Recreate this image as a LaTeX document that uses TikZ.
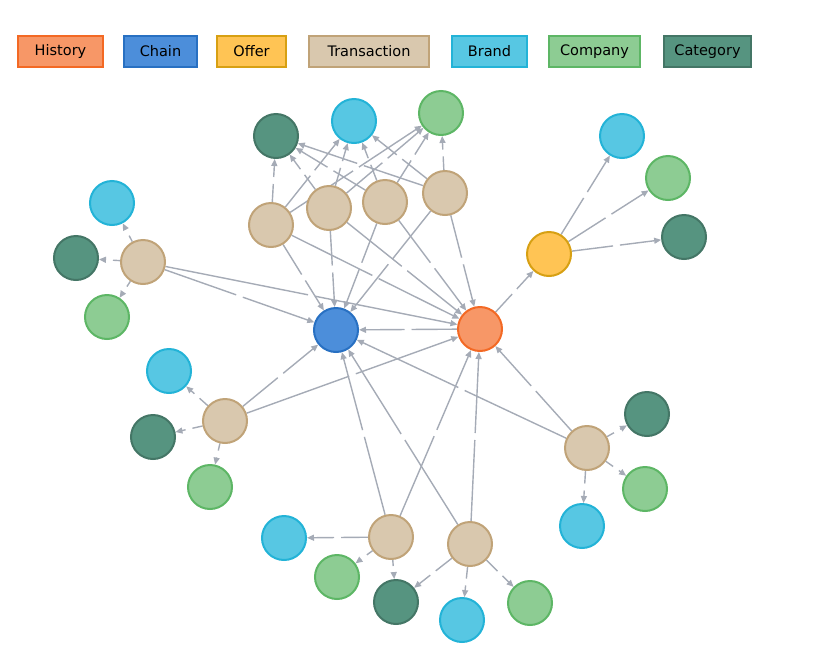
\documentclass[tikz,border=0pt]{standalone}
\usepackage{fontspec}
\setmainfont{DejaVu Sans}
\usetikzlibrary{arrows.meta,positioning,calc,backgrounds}
\definecolor{histfill}{HTML}{F79767}
\definecolor{histline}{HTML}{F36924}
\definecolor{chainfill}{HTML}{4C8EDA}
\definecolor{chainline}{HTML}{2870C2}
\definecolor{offerfill}{HTML}{FFC454}
\definecolor{offerline}{HTML}{D7A013}
\definecolor{txfill}{HTML}{D9C8AE}
\definecolor{txline}{HTML}{C0A378}
\definecolor{brandfill}{HTML}{57C7E3}
\definecolor{brandline}{HTML}{23B3D7}
\definecolor{compfill}{HTML}{8DCC93}
\definecolor{compline}{HTML}{5DB665}
\definecolor{catfill}{HTML}{569480}
\definecolor{catline}{HTML}{447666}
\definecolor{relgray}{HTML}{A5ABB6}

\begin{document}
\begin{tikzpicture}[x=1pt,y=-1pt,
 ent/.style={circle,minimum size=44pt,inner sep=0pt,line width=2pt,draw=#1line,fill=#1fill},
 legendbox/.style={draw=#1line,fill=#1fill,line width=2pt,minimum height=31pt,inner sep=0pt,font=\fontsize{14.5}{17}\selectfont},
 rel/.style={relgray,line width=1.4pt},
 relhead/.style={rel,-{Triangle[length=7pt,width=6pt]}}]
\useasboundingbox (0,0) rectangle (831,654);
\foreach \kind/\txt/\cx/\w in {hist/History/60.5/85,chain/Chain/160.5/73,offer/Offer/251.5/69,
 tx/Transaction/369/120,brand/Brand/489.5/75,comp/Company/594.5/91,cat/Category/707.5/87}
 \node[legendbox=\kind,minimum width=\w pt] (key-\kind) at (\cx,51.5) {\txt};

\node[ent=chain] (chain) at (336,330) {};
\node[ent=hist] (hist) at (480,329) {};
\node[ent=offer] (offer) at (549,254) {};
\node[ent=brand] (brand7) at (622,136) {};
\node[ent=comp] (comp7) at (668,178) {};
\node[ent=cat] (cat6) at (684,237) {};
% top cluster
\node[ent=tx] (tx1) at (271,225) {};
\node[ent=tx] (tx2) at (329,208) {};
\node[ent=tx] (tx3) at (385,202) {};
\node[ent=tx] (tx4) at (445,193) {};
\node[ent=cat] (cat1) at (276,136) {};
\node[ent=brand] (brand1) at (354,121) {};
\node[ent=comp] (comp1) at (441,113) {};
% left
\node[ent=tx] (tx5) at (143,262) {};
\node[ent=brand] (brand2) at (112,203) {};
\node[ent=cat] (cat2) at (76,258) {};
\node[ent=comp] (comp2) at (107,317) {};
\node[ent=tx] (tx6) at (225,421) {};
\node[ent=brand] (brand3) at (169,371) {};
\node[ent=cat] (cat3) at (153,437) {};
\node[ent=comp] (comp3) at (210,487) {};
% right
\node[ent=tx] (tx7) at (587,448) {};
\node[ent=cat] (cat4) at (647,414) {};
\node[ent=comp] (comp4) at (645,489) {};
\node[ent=brand] (brand4) at (582,526) {};
% bottom
\node[ent=tx] (tx8) at (391,537) {};
\node[ent=brand] (brand5) at (284,538) {};
\node[ent=comp] (comp5) at (337,577) {};
\node[ent=cat] (cat5) at (396,602) {};
\node[ent=tx] (tx9) at (470,544) {};
\node[ent=brand] (brand6) at (462,620) {};
\node[ent=comp] (comp6) at (530,603) {};

\begin{scope}[on background layer]
\foreach \a/\b in {tx1/cat1,tx1/brand1,tx1/comp1,tx1/chain,tx1/hist,
 tx2/cat1,tx2/brand1,tx2/comp1,tx2/chain,tx2/hist,
 tx3/cat1,tx3/brand1,tx3/comp1,tx3/chain,tx3/hist,
 tx4/cat1,tx4/brand1,tx4/comp1,tx4/chain,tx4/hist,
 tx5/brand2,tx5/cat2,tx5/comp2,tx5/chain,tx5/hist,
 tx6/brand3,tx6/cat3,tx6/comp3,tx6/chain,tx6/hist,
 tx7/cat4,tx7/comp4,tx7/brand4,tx7/chain,tx7/hist,
 tx8/brand5,tx8/comp5,tx8/cat5,tx8/chain,tx8/hist,
 tx9/cat5,tx9/brand6,tx9/comp6,tx9/chain,tx9/hist,
 hist/chain,hist/offer,offer/brand7,offer/comp7,offer/cat6}
 {
 \draw[rel,shorten >=3.5pt] (\a) -- ($(\a)!.5!(\b)$);
 \draw[relhead,shorten <=3.5pt] ($(\a)!.5!(\b)$) -- (\b);
 }
\end{scope}
\end{tikzpicture}
\end{document}
